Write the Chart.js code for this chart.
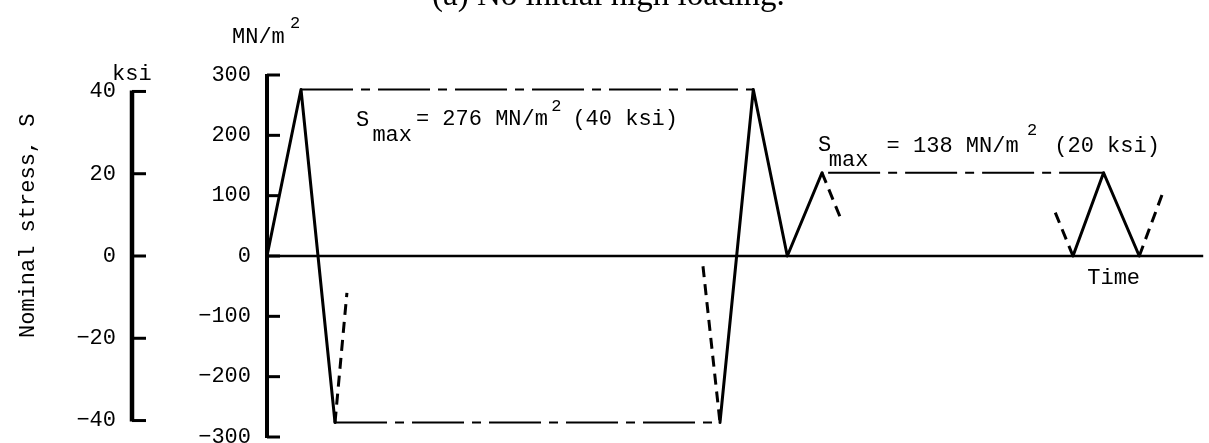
<!DOCTYPE html>
<html>
<head>
<meta charset="utf-8">
<script src="https://cdn.jsdelivr.net/npm/chart.js@4.4.1/dist/chart.umd.min.js"></script>
<style>
  html, body { margin: 0; padding: 0; background: #fff; }
  #wrap { position: relative; width: 1209px; height: 443px; }
</style>
</head>
<body>
<div id="wrap"><canvas id="chart"></canvas></div>
<script>
// stress levels, MN/m^2
const sMaxHigh = 276;
const sMaxLow = 138;

// time in rise units (one ramp from 0 to peak = 1)
const timeA = [0, 1.0, 2.0];
const stressA = [0, 276, -276];
const timeB = [13.32, 14.3, 15.3, 16.32];
const stressB = [-276, 276, 0, 138];
const timeC = [23.7, 24.6, 25.65];
const stressC = [0, 138, 0];

// dashed "and so on" stubs, start and end of each
const stubTime = [[2.0, 2.35], [12.82, 13.32], [16.32, 16.85], [23.18, 23.7], [25.65, 26.35]];
const stubStress = [[-276, -61], [-17, -276], [138, 65], [72, 0], [0, 106]];

// extent of the S max guide lines
const highSpan = [1.0, 14.3];
const lowSpan = [2.0, 13.32];
const smallSpan = [16.5, 24.6];

const timeEnd = 27.53;
const timeMax = 27.7;

const mnTicks = [-300, -200, -100, 0, 100, 200, 300];
const ksiTicks = [-40, -20, 0, 20, 40];

const mono = 'Liberation Mono, DejaVu Sans Mono, monospace';

function pts(ts, ss) {
  return ts.map((t, i) => ({ x: t, y: ss[i] }));
}

function fmt(v) {
  return v < 0 ? '\u2212' + Math.abs(v) : String(v);
}

function solid(data) {
  return { data, borderColor: '#000', borderWidth: 3, pointRadius: 0,
           borderJoinStyle: 'round', borderCapStyle: 'round' };
}
function guide(span, level) {
  return { data: pts(span, [level, level]), borderColor: '#000', borderWidth: 2,
           pointRadius: 0, borderDash: [52, 8, 9, 8] };
}

const datasets = [
  { data: pts([0, timeEnd], [0, 0]), borderColor: '#000', borderWidth: 2.5, pointRadius: 0 },
  guide(highSpan, sMaxHigh),
  guide(lowSpan, -sMaxHigh),
  guide(smallSpan, sMaxLow),
  solid(pts(timeA, stressA)),
  solid(pts(timeB, stressB)),
  solid(pts(timeC, stressC))
];
stubTime.forEach((t, i) => {
  datasets.push({ data: pts(t, stubStress[i]), borderColor: '#000', borderWidth: 3,
                  pointRadius: 0, borderDash: [11, 7] });
});

// axis spines, inward ticks and the typed labels
const decor = {
  id: 'decor',
  afterDraw(chart) {
    const ctx = chart.ctx;
    const xs = chart.scales.x, mn = chart.scales.y, ksi = chart.scales.ksi;
    const line = (x1, y1, x2, y2) => { ctx.beginPath(); ctx.moveTo(x1, y1); ctx.lineTo(x2, y2); ctx.stroke(); };
    const txt = (s, x, y, size) => { ctx.font = size + 'px ' + mono; ctx.fillText(s, x, y); };
    const at = (t, s) => [xs.getPixelForValue(t), mn.getPixelForValue(s)];

    ctx.save();
    ctx.strokeStyle = '#000';
    ctx.fillStyle = '#000';
    ctx.lineCap = 'butt';

    // MN/m^2 axis
    ctx.lineWidth = 4;
    line(mn.right, mn.getPixelForValue(300) - 1, mn.right, mn.getPixelForValue(-300) + 1);
    ctx.lineWidth = 3;
    mnTicks.forEach(v => { const py = mn.getPixelForValue(v); line(mn.right, py, mn.right + 13, py); });

    // ksi axis
    ctx.lineWidth = 4.5;
    line(ksi.right - 1, ksi.getPixelForValue(40) - 1, ksi.right - 1, ksi.getPixelForValue(-40) + 1);
    ctx.lineWidth = 3;
    ksiTicks.forEach(v => { const py = ksi.getPixelForValue(v); line(ksi.right - 1, py, ksi.right + 13, py); });

    ctx.textBaseline = 'alphabetic';
    ctx.textAlign = 'left';

    // unit headings
    txt('MN/m', 232, 43, 22);
    txt('2', 290, 28, 17);
    txt('ksi', 112, 80, 22);

    // rotated axis title
    ctx.save();
    ctx.translate(34, 338);
    ctx.rotate(-Math.PI / 2);
    txt('Nominal stress, S', 0, 0, 22);
    ctx.restore();

    // S max labels
    let p = at(2.62, 215); txt('S', p[0], p[1], 22);
    p = at(3.1, 190); txt('max', p[0], p[1], 22);
    p = at(4.38, 217); txt('= 276 MN/m', p[0], p[1], 22);
    p = at(8.36, 241); txt('2', p[0], p[1], 17);
    p = at(8.98, 217); txt('(40 ksi)', p[0], p[1], 22);

    p = at(16.2, 174); txt('S', p[0], p[1], 22);
    p = at(16.52, 149); txt('max', p[0], p[1], 22);
    p = at(18.22, 172); txt('= 138 MN/m', p[0], p[1], 22);
    p = at(22.35, 200); txt('2', p[0], p[1], 17);
    p = at(23.15, 172); txt('(20 ksi)', p[0], p[1], 22);

    p = at(24.12, -46); txt('Time', p[0], p[1], 22);

    // figure caption, mostly above the top edge
    ctx.font = '33px Liberation Serif, serif';
    ctx.fillText('(a) No initial high loading.', 432, 5);

    ctx.restore();
  }
};

const tickFont = { family: mono, size: 22 };

new Chart(document.getElementById('chart'), {
  type: 'line',
  data: { datasets },
  plugins: [decor],
  options: {
    responsive: true,
    maintainAspectRatio: false,
    animation: false,
    layout: { padding: { top: 75, bottom: 6, left: 0, right: 0 } },
    plugins: { legend: { display: false }, tooltip: { enabled: false }, title: { display: false } },
    elements: { line: { tension: 0 } },
    scales: {
      x: { type: 'linear', min: 0, max: timeMax, display: false },
      y: {
        position: 'left', weight: 0, min: -300, max: 300,
        afterBuildTicks: s => { s.ticks = mnTicks.map(v => ({ value: v })); },
        afterFit: s => { s.width = 134; s.paddingTop = 0; s.paddingBottom = 0; },
        grid: { display: false, drawTicks: false },
        border: { display: false },
        ticks: { padding: 16, font: tickFont, color: '#000', callback: fmt, autoSkip: false }
      },
      ksi: {
        position: 'left', weight: 1, min: -44, max: 44,
        afterBuildTicks: s => { s.ticks = ksiTicks.map(v => ({ value: v })); },
        afterFit: s => { s.width = 133; s.paddingTop = 0; s.paddingBottom = 0; },
        grid: { display: false, drawTicks: false },
        border: { display: false },
        ticks: { padding: 17, font: tickFont, color: '#000', callback: fmt, autoSkip: false }
      }
    }
  }
});
</script>
</body>
</html>
